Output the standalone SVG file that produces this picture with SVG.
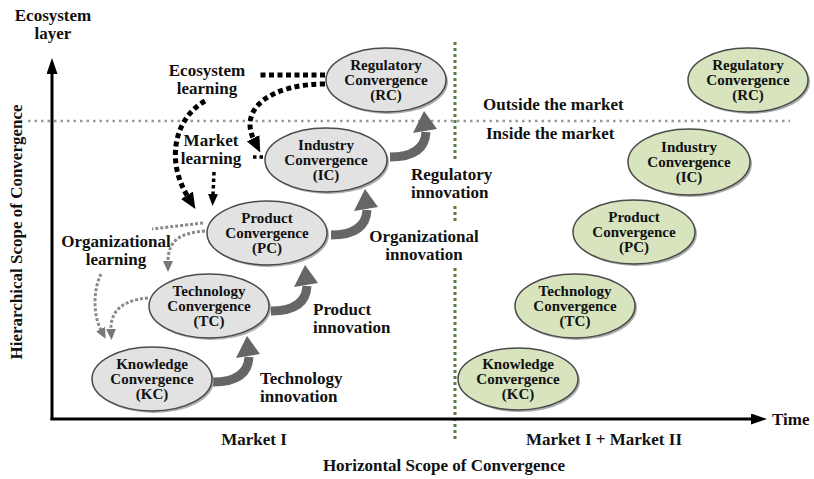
<svg xmlns="http://www.w3.org/2000/svg" xmlns:xlink="http://www.w3.org/1999/xlink" width="814" height="479" viewBox="0 0 814 479">
<style>
text{font-family:"Liberation Serif","Times New Roman",serif;font-weight:bold;fill:#111}
.lbl{font-size:17px}
.nt{font-size:15px;text-anchor:middle}
.mid{text-anchor:middle}
.ell-g{fill:#e2e2e2;stroke:#4a4a4a;stroke-width:1.5}
.ell-n{fill:#d7e4bd;stroke:#4a4a4a;stroke-width:1.5}
.shadow{fill:#8a8a8a;opacity:0.7}
.axis{stroke:#000;stroke-width:3;fill:none}
.eco{stroke:#000;stroke-width:5;fill:none;stroke-dasharray:5 3.5}
.mkt{stroke:#000;stroke-width:3.5;fill:none;stroke-dasharray:3.5 3}
.org{stroke:#8a8a8a;stroke-width:3;fill:none;stroke-dasharray:3 2}
.innov{stroke:#666;stroke-width:9;fill:none}
.innovhead{fill:#666}
.hline{stroke:#9a9a9a;stroke-width:2.5;stroke-dasharray:2.5 4;fill:none}
.vline{stroke:#5b7b3b;stroke-width:3;stroke-dasharray:3 3;fill:none}
</style>
<defs>
<marker id="m-axis" viewBox="0 0 16 11" refX="1" refY="5.5" markerWidth="16" markerHeight="11" markerUnits="userSpaceOnUse" orient="auto"><path d="M0,0 L16,5.5 L0,11 z" fill="#000"/></marker>
<marker id="m-eco" viewBox="0 0 16 14" refX="2" refY="7" markerWidth="16" markerHeight="14" markerUnits="userSpaceOnUse" orient="auto"><path d="M0,0 L16,7 L0,14 z" fill="#000"/></marker>
<marker id="m-mkt" viewBox="0 0 12 10" refX="1" refY="5" markerWidth="12" markerHeight="10" markerUnits="userSpaceOnUse" orient="auto"><path d="M0,0 L12,5 L0,10 z" fill="#000"/></marker>
<marker id="m-org" viewBox="0 0 11 10" refX="1" refY="5" markerWidth="11" markerHeight="10" markerUnits="userSpaceOnUse" orient="auto"><path d="M0,0 L11,5 L0,10 z" fill="#777"/></marker>
<g id="innovArrow"><path class="innov" d="M0,0 C20,0 35,-6 36,-25"/><path class="innovhead" d="M23,-24 L47,-28 L34,-46 z"/></g>
</defs>

<rect x="0" y="0" width="814" height="479" fill="#fff"/>

<g id="guides">
<path class="hline" d="M28,121 H790"/>
<path class="vline" d="M455,42 V162 M455,206 V224 M455,268 V440"/>
</g>

<g id="axes">
<path class="axis" d="M52,420 V73" marker-end="url(#m-axis)"/>
<path class="axis" d="M50.5,419 H752" marker-end="url(#m-axis)"/>
</g>

<g id="connectors">
<path class="eco" d="M325,75 H259"/>
<path class="eco" d="M205,101 C175,118 165,160 188,197" marker-end="url(#m-eco)"/>
<path class="eco" d="M325,84 C272,84 238,108 254,140" marker-end="url(#m-eco)"/>
<path class="mkt" d="M263,157 H250"/>
<path class="mkt" d="M214,172 L213,195" marker-end="url(#m-mkt)"/>
<path class="org" d="M205,231 C180,233 168,240 168,262" marker-end="url(#m-org)"/>
<path class="org" d="M203,223 L152,229"/>
<path class="org" d="M101,274 C93,290 93,315 101,330" marker-end="url(#m-org)"/>
<path class="org" d="M148,298 C122,300 110,312 111,330" marker-end="url(#m-org)"/>
<use xlink:href="#innovArrow" href="#innovArrow" transform="translate(213,382)"/>
<use xlink:href="#innovArrow" href="#innovArrow" transform="translate(271,311)"/>
<use xlink:href="#innovArrow" href="#innovArrow" transform="translate(331,235)"/>
<use xlink:href="#innovArrow" href="#innovArrow" transform="translate(390,157)"/>
</g>

<g id="rc-grey"><ellipse class="shadow" cx="388" cy="82" rx="60" ry="32"/><ellipse class="ell-g" cx="386" cy="80" rx="60" ry="32"/>
<text class="nt" x="386" y="70">Regulatory</text><text class="nt" x="386" y="85">Convergence</text><text class="nt" x="386" y="100">(RC)</text></g>
<g id="ic-grey"><ellipse class="shadow" cx="328" cy="162" rx="61" ry="32"/><ellipse class="ell-g" cx="326" cy="160" rx="61" ry="32"/>
<text class="nt" x="326" y="150">Industry</text><text class="nt" x="326" y="165">Convergence</text><text class="nt" x="326" y="180">(IC)</text></g>
<g id="pc-grey"><ellipse class="shadow" cx="269" cy="235" rx="60" ry="32"/><ellipse class="ell-g" cx="267" cy="233" rx="60" ry="32"/>
<text class="nt" x="267" y="223">Product</text><text class="nt" x="267" y="238">Convergence</text><text class="nt" x="267" y="253">(PC)</text></g>
<g id="tc-grey"><ellipse class="shadow" cx="211" cy="308" rx="60" ry="32"/><ellipse class="ell-g" cx="209" cy="306" rx="60" ry="32"/>
<text class="nt" x="209" y="296">Technology</text><text class="nt" x="209" y="311">Convergence</text><text class="nt" x="209" y="326">(TC)</text></g>
<g id="kc-grey"><ellipse class="shadow" cx="154" cy="381" rx="60" ry="32"/><ellipse class="ell-g" cx="152" cy="379" rx="60" ry="32"/>
<text class="nt" x="152" y="369">Knowledge</text><text class="nt" x="152" y="384">Convergence</text><text class="nt" x="152" y="399">(KC)</text></g>

<g id="rc-green"><ellipse class="shadow" cx="750" cy="82" rx="60" ry="32"/><ellipse class="ell-n" cx="748" cy="80" rx="60" ry="32"/>
<text class="nt" x="748" y="70">Regulatory</text><text class="nt" x="748" y="85">Convergence</text><text class="nt" x="748" y="100">(RC)</text></g>
<g id="ic-green"><ellipse class="shadow" cx="691" cy="164" rx="61" ry="33"/><ellipse class="ell-n" cx="689" cy="162" rx="61" ry="33"/>
<text class="nt" x="689" y="152">Industry</text><text class="nt" x="689" y="167">Convergence</text><text class="nt" x="689" y="182">(IC)</text></g>
<g id="pc-green"><ellipse class="shadow" cx="636" cy="234" rx="61" ry="32"/><ellipse class="ell-n" cx="634" cy="232" rx="61" ry="32"/>
<text class="nt" x="634" y="222">Product</text><text class="nt" x="634" y="237">Convergence</text><text class="nt" x="634" y="252">(PC)</text></g>
<g id="tc-green"><ellipse class="shadow" cx="577" cy="308" rx="60" ry="32"/><ellipse class="ell-n" cx="575" cy="306" rx="60" ry="32"/>
<text class="nt" x="575" y="296">Technology</text><text class="nt" x="575" y="311">Convergence</text><text class="nt" x="575" y="326">(TC)</text></g>
<g id="kc-green"><ellipse class="shadow" cx="520" cy="381" rx="60" ry="31"/><ellipse class="ell-n" cx="518" cy="379" rx="60" ry="31"/>
<text class="nt" x="518" y="369">Knowledge</text><text class="nt" x="518" y="384">Convergence</text><text class="nt" x="518" y="399">(KC)</text></g>

<g id="labels">
<text class="lbl mid" x="53" y="21">Ecosystem</text>
<text class="lbl mid" x="53" y="39">layer</text>
<text class="lbl mid" transform="translate(22,232) rotate(-90)">Hierarchical Scope of Convergence</text>
<text class="lbl mid" x="207" y="76">Ecosystem</text>
<text class="lbl mid" x="207" y="94">learning</text>
<text class="lbl mid" x="211" y="146">Market</text>
<text class="lbl mid" x="211" y="164">learning</text>
<text class="lbl mid" x="116" y="247">Organizational</text>
<text class="lbl mid" x="116" y="265">learning</text>
<text class="lbl" x="411" y="180">Regulatory</text>
<text class="lbl" x="411" y="198">innovation</text>
<text class="lbl mid" x="424" y="242">Organizational</text>
<text class="lbl mid" x="424" y="260">innovation</text>
<text class="lbl" x="313" y="315">Product</text>
<text class="lbl" x="313" y="333">innovation</text>
<text class="lbl" x="260" y="384">Technology</text>
<text class="lbl" x="260" y="402">innovation</text>
<text class="lbl" x="483" y="110">Outside the market</text>
<text class="lbl" x="486" y="139">Inside the market</text>
<text class="lbl" x="772" y="425">Time</text>
<text class="lbl mid" x="254" y="445">Market I</text>
<text class="lbl mid" x="604" y="445">Market I + Market II</text>
<text class="lbl mid" x="444" y="471">Horizontal Scope of Convergence</text>
</g>
</svg>
